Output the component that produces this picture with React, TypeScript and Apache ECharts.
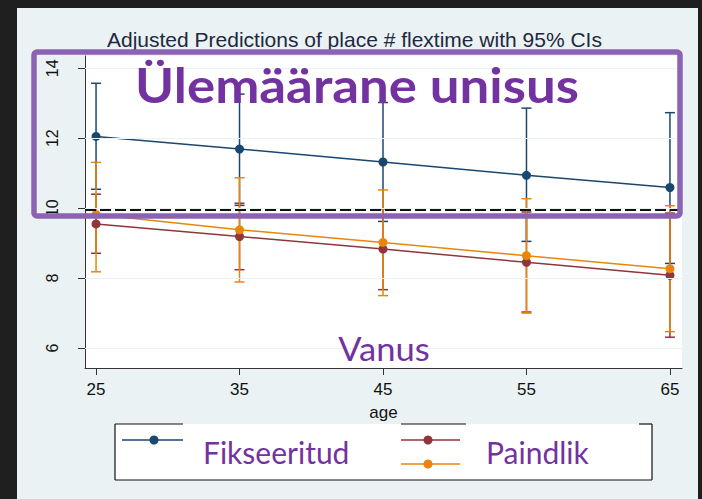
import React, { useEffect, useRef } from "react";
import * as echarts from "echarts";

const ages = [25, 35, 45, 55, 65];
const xTicks = [25, 35, 45, 55, 65];
const yTicks = [6, 8, 10, 12, 14];

const fixedMean = [12.05, 11.69, 11.32, 10.94, 10.59];
const fixedLow = [10.54, 10.08, 9.62, 9.05, 8.42];
const fixedHigh = [13.57, 13.26, 13.02, 12.86, 12.73];

const flexAMean = [9.55, 9.19, 8.83, 8.45, 8.08];
const flexALow = [8.71, 8.24, 7.67, 7.03, 6.31];
const flexAHigh = [10.4, 10.14, 9.98, 9.89, 9.86];

const flexBMean = [9.82, 9.38, 9.02, 8.64, 8.27];
const flexBLow = [8.18, 7.89, 7.5, 7.0, 6.47];
const flexBHigh = [11.31, 10.87, 10.52, 10.27, 10.07];

const refLine = 9.95;

const BLUE = "#1a476f";
const MAROON = "#90353b";
const ORANGE = "#e8860c";
const PURPLE = "#7232a0";

const errSeries = (name: string, color: string, low: number[], high: number[], extra: any = {}) => ({
  type: "custom",
  name,
  data: ages.map((a, i) => [a, low[i], high[i]]),
  encode: { x: 0, y: [1, 2] },
  renderItem: (params: any, api: any) => {
    const x = api.value(0);
    const pLo = api.coord([x, api.value(1)]);
    const pHi = api.coord([x, api.value(2)]);
    const hw = 5;
    const st = { stroke: color, lineWidth: 1.5 };
    return {
      type: "group",
      children: [
        { type: "line", shape: { x1: pLo[0], y1: pLo[1], x2: pHi[0], y2: pHi[1] }, style: st },
        { type: "line", shape: { x1: pLo[0] - hw, y1: pLo[1], x2: pLo[0] + hw, y2: pLo[1] }, style: st },
        { type: "line", shape: { x1: pHi[0] - hw, y1: pHi[1], x2: pHi[0] + hw, y2: pHi[1] }, style: st },
      ],
    };
  },
  ...extra,
});

const lineSeries = (name: string, color: string, vals: number[], extra: any = {}) => ({
  type: "line",
  name,
  data: ages.map((a, i) => [a, vals[i]]),
  symbol: "circle",
  symbolSize: 9,
  lineStyle: { color, width: 1.5 },
  itemStyle: { color },
  ...extra,
});

export default function App() {
  const ref = useRef<HTMLDivElement>(null);
  useEffect(() => {
    if (!ref.current) return;
    const chart = echarts.init(ref.current, undefined, { renderer: "svg" });
    const axisText = { color: "#111", fontSize: 17, fontFamily: "Liberation Sans, Arial, sans-serif" };
    chart.setOption({
      animation: false,
      backgroundColor: "transparent",
      title: {
        text: "Adjusted Predictions of place # flextime with 95% CIs",
        left: 107,
        top: 29,
        padding: 0,
        textStyle: { fontSize: 21, fontWeight: "normal", color: "#1e2840", fontFamily: "Liberation Sans, Arial, sans-serif" },
      },
      grid: { left: 85, right: 20, top: 56, bottom: 131, show: true, backgroundColor: "#ffffff", borderWidth: 0 },
      xAxis: {
        type: "value",
        min: 24.23,
        max: 65.84,
        name: "age",
        nameLocation: "middle",
        nameGap: 36,
        nameTextStyle: axisText,
        axisLine: { lineStyle: { color: "#333", width: 1 } },
        axisTick: { customValues: xTicks, length: 7, lineStyle: { color: "#333" } },
        axisLabel: { customValues: xTicks, margin: 13, ...axisText },
        splitLine: { show: false },
      },
      yAxis: {
        type: "value",
        min: 5.43,
        max: 14.35,
        axisLine: { show: true, lineStyle: { color: "#333", width: 1 } },
        axisTick: { show: true, customValues: yTicks, length: 7, lineStyle: { color: "#333" } },
        axisLabel: { customValues: yTicks, rotate: 90, margin: 25, ...axisText, fontSize: 16 },
        splitLine: { show: false },
      },
      series: [
        errSeries("Fikseeritud CI", BLUE, fixedLow, fixedHigh, {
          markLine: {
            silent: true,
            symbol: "none",
            label: { show: false },
            lineStyle: { color: "#eaf2f3", width: 1.2, type: "solid" },
            data: yTicks.map((v) => ({ yAxis: v })),
          },
        }),
        errSeries("Paindlik A CI", MAROON, flexALow, flexAHigh),
        errSeries("Paindlik B CI", ORANGE, flexBLow, flexBHigh),
        lineSeries("Fikseeritud", BLUE, fixedMean),
        lineSeries("Paindlik A", MAROON, flexAMean),
        lineSeries("Paindlik B", ORANGE, flexBMean, {
          markLine: {
            silent: true,
            symbol: "none",
            label: { show: false },
            lineStyle: { color: "#111", width: 2, type: [11, 4] },
            data: [{ yAxis: refLine }],
          },
        }),
      ],
      graphic: [
        {
          type: "rect",
          z: 100,
          shape: { x: 34, y: 52, width: 646, height: 164, r: 3 },
          style: { fill: "none", stroke: "#8c63b3", lineWidth: 5.5 },
        },
        {
          type: "text",
          z: 101,
          x: 357,
          y: 84,
          scaleX: 1.1,
          style: {
            text: "Ülemäärane unisus",
            fill: PURPLE,
            font: "bold 48px Lato, sans-serif",
            textAlign: "center",
            textVerticalAlign: "middle",
          },
        },
        {
          type: "text",
          z: 101,
          x: 384,
          y: 349,
          scaleX: 1.08,
          style: {
            text: "Vanus",
            fill: PURPLE,
            font: "32px Lato, sans-serif",
            textAlign: "center",
            textVerticalAlign: "middle",
          },
        },
        {
          type: "group",
          z: 100,
          children: [
            { type: "rect", shape: { x: 115, y: 424, width: 537, height: 56 }, style: { fill: "#ffffff" } },
            { type: "line", shape: { x1: 115, y1: 424, x2: 115, y2: 480 }, style: { stroke: "#111", lineWidth: 1.2 } },
            { type: "line", shape: { x1: 652, y1: 424, x2: 652, y2: 480 }, style: { stroke: "#111", lineWidth: 1.2 } },
            { type: "line", shape: { x1: 115, y1: 480, x2: 652, y2: 480 }, style: { stroke: "#111", lineWidth: 1.2 } },
            { type: "line", shape: { x1: 115, y1: 424, x2: 183, y2: 424 }, style: { stroke: "#111", lineWidth: 1.2 } },
            { type: "line", shape: { x1: 401, y1: 424, x2: 466, y2: 424 }, style: { stroke: "#111", lineWidth: 1.2 } },
            { type: "line", shape: { x1: 639, y1: 424, x2: 652, y2: 424 }, style: { stroke: "#111", lineWidth: 1.2 } },
            { type: "line", shape: { x1: 122, y1: 440, x2: 183, y2: 440 }, style: { stroke: BLUE, lineWidth: 1.5 } },
            { type: "circle", shape: { cx: 154, cy: 440, r: 4.5 }, style: { fill: BLUE } },
            { type: "line", shape: { x1: 401, y1: 440, x2: 460, y2: 440 }, style: { stroke: MAROON, lineWidth: 1.5 } },
            { type: "circle", shape: { cx: 428, cy: 440, r: 4.5 }, style: { fill: MAROON } },
            { type: "line", shape: { x1: 401, y1: 464, x2: 460, y2: 464 }, style: { stroke: ORANGE, lineWidth: 1.5 } },
            { type: "circle", shape: { cx: 428, cy: 464, r: 4.5 }, style: { fill: ORANGE } },
            {
              type: "text",
              x: 203,
              y: 452,
              style: { text: "Fikseeritud", fill: PURPLE, font: "30px Lato, sans-serif", textAlign: "left", textVerticalAlign: "middle" },
            },
            {
              type: "text",
              x: 486,
              y: 452,
              style: { text: "Paindlik", fill: PURPLE, font: "30px Lato, sans-serif", textAlign: "left", textVerticalAlign: "middle" },
            },
          ],
        },
      ],
    });
    return () => chart.dispose();
  }, []);

  return (
    <div style={{ position: "fixed", left: 0, top: 0, width: 702, height: 499, background: "#1f1f1f" }}>
      <div style={{ position: "absolute", left: 17, top: 8, width: 681, height: 491, background: "#eaf2f3" }} />
      <div ref={ref} style={{ position: "absolute", left: 0, top: 0, width: 702, height: 499 }} />
    </div>
  );
}
